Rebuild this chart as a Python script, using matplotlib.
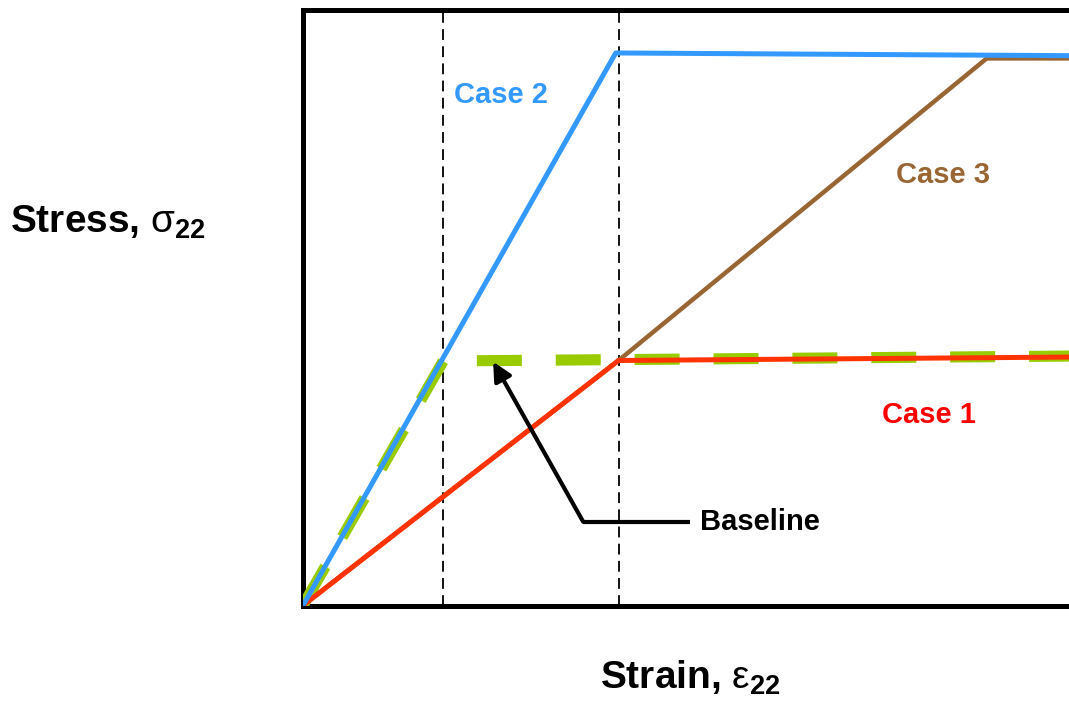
import matplotlib.pyplot as plt

plt.rcParams['font.family'] = ['Liberation Sans', 'DejaVu Sans']
plt.rcParams['mathtext.fontset'] = 'custom'
plt.rcParams['mathtext.rm'] = 'Liberation Sans'
plt.rcParams['mathtext.it'] = 'Liberation Sans'
plt.rcParams['mathtext.bf'] = 'Liberation Sans:bold'

# strain breakpoints (arbitrary units) and stress at each breakpoint
eps_yield_base = 1.0
eps_yield_1 = 2.25
eps_end = 5.49

baseline_x = [0.0, 1.0, 5.49]
baseline_y = [0.0, 0.99, 1.01]

case1_x = [0.0, 2.25, 5.49]
case1_y = [0.0, 0.992, 1.006]

case2_x = [0.0, 2.23, 5.49]
case2_y = [0.0, 2.237, 2.226]

case3_x = [0.0, 2.25, 4.875, 5.49]
case3_y = [0.0, 0.992, 2.215, 2.215]

fig = plt.figure(figsize=(10.69, 7.04), dpi=100)
ax = fig.add_axes([0.2834, 0.1399, 0.7203, 0.8452])
ax.set_xlim(0, eps_end)
ax.set_ylim(0, 2.409)

for s in ax.spines.values():
    s.set_linewidth(3.6)
ax.set_xticks([])
ax.set_yticks([])

# vertical guides at the two yield strains
for xv in [eps_yield_base, eps_yield_1]:
    ax.axvline(xv, color='black', lw=1.3, dashes=(6, 3.5), zorder=1)

ax.plot(case3_x, case3_y, color='#996633', lw=3.2, zorder=2, solid_capstyle='butt')
ax.plot(baseline_x, baseline_y, color='#99CC00', lw=8.0, dashes=(4.05, 3.05), zorder=3)
ax.plot(case1_x, case1_y, color='#FF3300', lw=3.6, zorder=4)
ax.plot(case2_x, case2_y, color='#3399FF', lw=3.6, zorder=5)

ax.text(1.411, 2.067, 'Case 2', color='#3399FF', fontsize=21, fontweight='bold',
        ha='center', va='center')
ax.text(4.56, 1.743, 'Case 3', color='#996633', fontsize=21, fontweight='bold',
        ha='center', va='center')
ax.text(4.46, 0.771, 'Case 1', color='#FF0000', fontsize=21, fontweight='bold',
        ha='center', va='center')

# pointer to the baseline curve
ax.plot([1.998, 2.76], [0.339, 0.339], color='black', lw=3, solid_capstyle='butt', zorder=6)
ax.annotate('', xy=(1.356, 0.987), xytext=(1.998, 0.339),
            arrowprops=dict(arrowstyle='-|>', lw=3, color='black', mutation_scale=28,
                            shrinkA=0, shrinkB=0), zorder=6)
ax.text(2.83, 0.339, 'Baseline', color='black', fontsize=21, fontweight='bold',
        ha='left', va='center')

fig.text(10 / 1069, 1 - 222 / 704, r'Stress, $\sigma_{\mathbf{22}}$', fontsize=28,
         fontweight='bold', ha='left', va='center')
fig.text(690 / 1069, 1 - 678 / 704, r'Strain, $\varepsilon_{\mathbf{22}}$', fontsize=28,
         fontweight='bold', ha='center', va='center')

fig.savefig('out.png', dpi=100)
